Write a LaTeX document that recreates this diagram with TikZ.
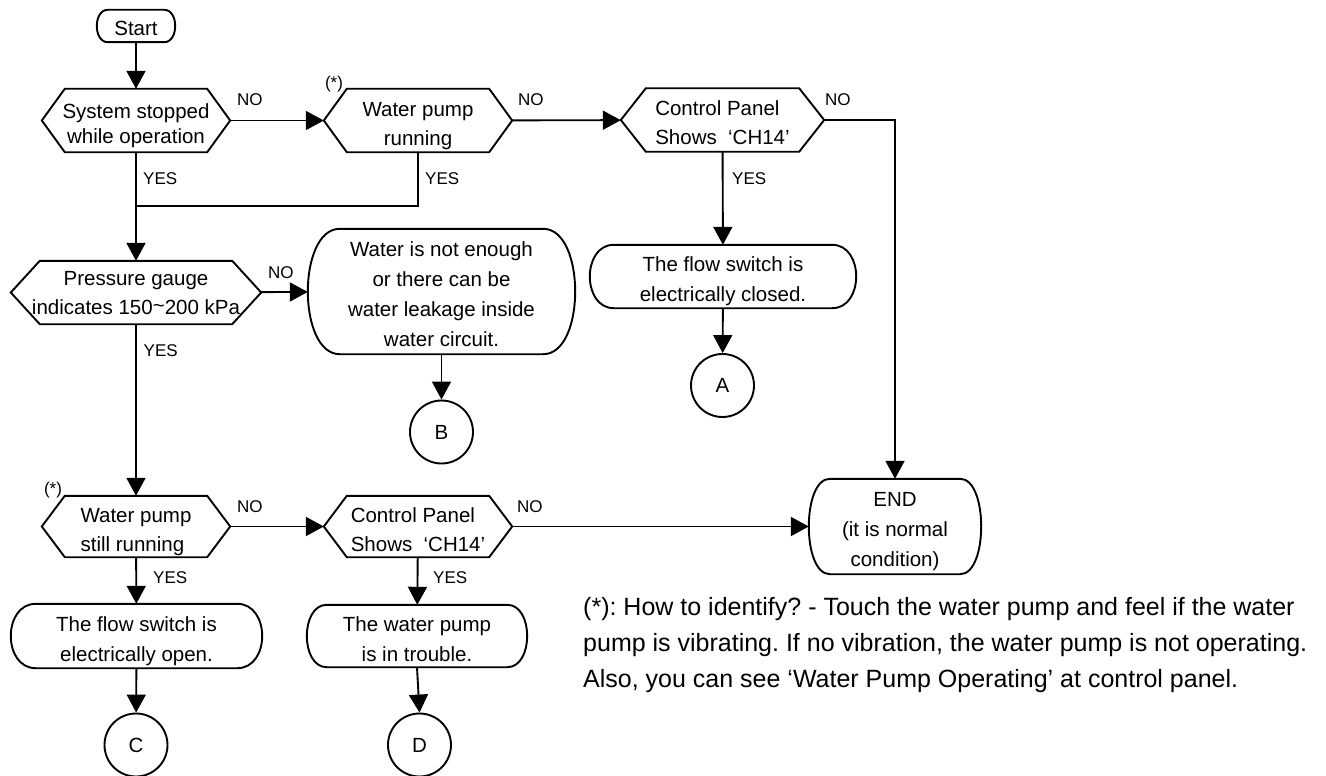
\documentclass[tikz,border=0pt]{standalone}
\usepackage{fontspec}
\setmainfont{Liberation Sans}
\usetikzlibrary{arrows.meta,calc}

% invisible struts that fix the height of the first and the depth of the last text line
\newcommand\topstr{\rule{0pt}{25pt}}
\newcommand\botstr{\rule[-5pt]{0pt}{5pt}}

% hexagonal decision outline around a plain node: #1 node, #2 corner inset
\newcommand\hexoutline[2]{%
  \draw[shapeline] (#1.west) -- ($(#1.north west)+(#2,0)$) -- ($(#1.north east)+(-#2,0)$)
    -- (#1.east) -- ($(#1.south east)+(-#2,0)$) -- ($(#1.south west)+(#2,0)$) -- cycle;}

% terminator outline with bulging ends: #1 node, #2 depth of the bulge
\newcommand\capoutline[2]{%
  \draw[shapeline] ($(#1.north west)+(#2,0)$) -- ($(#1.north east)+(-#2,0)$)
    .. controls ($(#1.north east)+(#2/3,0)$) and ($(#1.south east)+(#2/3,0)$) .. ($(#1.south east)+(-#2,0)$)
    -- ($(#1.south west)+(#2,0)$)
    .. controls ($(#1.south west)+(-#2/3,0)$) and ($(#1.north west)+(-#2/3,0)$) .. ($(#1.north west)+(#2,0)$)
    -- cycle;}

\begin{document}
\frenchspacing
\begin{tikzpicture}[x=1pt,y=-1pt,
  shapeline/.style={line width=1.9pt, line join=miter},
  box/.style={inner sep=0pt, align=center, font=\fontsize{20.5}{29}\selectfont},
  capbox/.style={box, font=\fontsize{20.5}{30}\selectfont},
  conn/.style={circle, draw, line width=1.9pt, minimum size=63pt, inner sep=0pt, font=\fontsize{20.5}{24}\selectfont},
  flow/.style={line width=1.9pt, -{Triangle[length=18pt,width=19pt]}},
  plain/.style={line width=1.9pt},
  lbl/.style={inner sep=0pt, anchor=west, font=\fontsize{17}{20}\selectfont},
  star/.style={inner sep=0pt, font=\fontsize{17}{20}\selectfont}]
\useasboundingbox (0,0) rectangle (1326,776);

% decisions
\node[box, minimum width=188pt, minimum height=63pt, font=\fontsize{20.5}{25}\selectfont] (d1) at (136,120.5) {\topstr System stopped\\while operation\botstr};
\node[box, minimum width=188pt, minimum height=63pt] (d2) at (418,120.5) {\topstr Water pump\\running\botstr};
\node[box, minimum width=203pt, minimum height=63pt, align=left] (d3) at (722.5,120) {\topstr Control Panel\\Shows~ ‘CH14’\botstr};
\node[box, minimum width=250pt, minimum height=63pt] (d4) at (136,292.5) {\rule{0pt}{19pt}Pressure gauge\\indicates 150\raisebox{0.15ex}{\char"007E}200 kPa\botstr};
\node[box, minimum width=188pt, minimum height=61pt, align=left] (d5) at (136,526.5) {\topstr Water pump\\still running\botstr};
\node[box, minimum width=188pt, minimum height=61pt, align=left] (d6) at (418,526.5) {\topstr Control Panel\\Shows~ ‘CH14’\botstr};
\hexoutline{d1}{23}
\hexoutline{d2}{23}
\hexoutline{d3}{25}
\hexoutline{d4}{29}
\hexoutline{d5}{23}
\hexoutline{d6}{23}

% terminators and results
\node[capbox, minimum width=78pt, minimum height=32pt] (start) at (136,26) {\topstr Start\botstr};
\node[capbox, minimum width=267pt, minimum height=125pt] (water) at (441.5,291.5) {\topstr Water is not enough\\or there can be\\water leakage inside\\water circuit.\botstr};
\node[capbox, minimum width=266pt, minimum height=63pt] (fclosed) at (723,276.5) {\topstr The flow switch is\\electrically closed.\botstr};
\node[capbox, minimum width=172pt, minimum height=95pt] (endn) at (895,526.5) {\topstr END\\(it is normal\\condition)\botstr};
\node[capbox, minimum width=251pt, minimum height=64pt] (fopen) at (136.5,636) {\topstr The flow switch is\\electrically open.\botstr};
\node[capbox, minimum width=220pt, minimum height=62pt] (trouble) at (417,636) {\topstr The water pump\\is in trouble.\botstr};
\capoutline{start}{11}
\capoutline{water}{32}
\capoutline{fclosed}{24}
\capoutline{endn}{21}
\capoutline{fopen}{25}
\capoutline{trouble}{20}

% off-page connectors
\node[conn] (ca) at (722.5,385.5) {A};
\node[conn] (cb) at (441.5,432) {B};
\node[conn] (cc) at (136,745) {C};
\node[conn] (cd) at (419.5,745) {D};

% markers for the note
\node[star] (s1) at (334,84) {(*)};
\node[star] (s2) at (53,490) {(*)};

% connectors
\coordinate (j1) at (136,206);
\draw[flow] (start) -- (d1);
\draw[flow] (d1) -- (d2);
\draw[plain] (d1) -- (j1);
\draw[plain] (d2.south) |- (j1);
\draw[flow] (j1) -- (d4);
\draw[flow] (d2) -- (d3);
\draw[flow] (d3.east) -| (endn.north);
\draw[flow] (d3) -- (fclosed);
\draw[flow] (fclosed) -- (ca);
\draw[flow] (d4) -- (water);
\draw[flow] (water) -- (cb);
\draw[flow] (d4) -- (d5);
\draw[flow] (d5) -- (d6);
\draw[flow] (d5) -- (fopen);
\draw[flow] (fopen) -- (cc);
\draw[flow] (d6) -- (endn);
\draw[flow] (d6) -- (trouble);
\draw[flow] (trouble.south) -- (cd.north);

% branch labels
\node[lbl] (n1) at (237,100) {NO};
\node[lbl] (y1) at (143,179) {YES};
\node[lbl] (n2) at (518,100) {NO};
\node[lbl] (y2) at (425,179) {YES};
\node[lbl] (n3) at (825,100) {NO};
\node[lbl] (y3) at (732,179) {YES};
\node[lbl] (n4) at (268,273) {NO};
\node[lbl] (y4) at (143.5,351) {YES};
\node[lbl] (n5) at (237,507) {NO};
\node[lbl] (y5) at (153,578) {YES};
\node[lbl] (n6) at (517,507) {NO};
\node[lbl] (y6) at (433,578) {YES};

% footnote
\node[inner sep=0pt, anchor=north west, align=left, font=\fontsize{25}{36}\selectfont] (note) at (583,597)
  {(*): How to identify? - Touch the water pump and feel if the water\\
   pump is vibrating. If no vibration, the water pump is not operating.\\
   Also, you can see ‘Water Pump Operating’ at control panel.};
\end{tikzpicture}
\end{document}
